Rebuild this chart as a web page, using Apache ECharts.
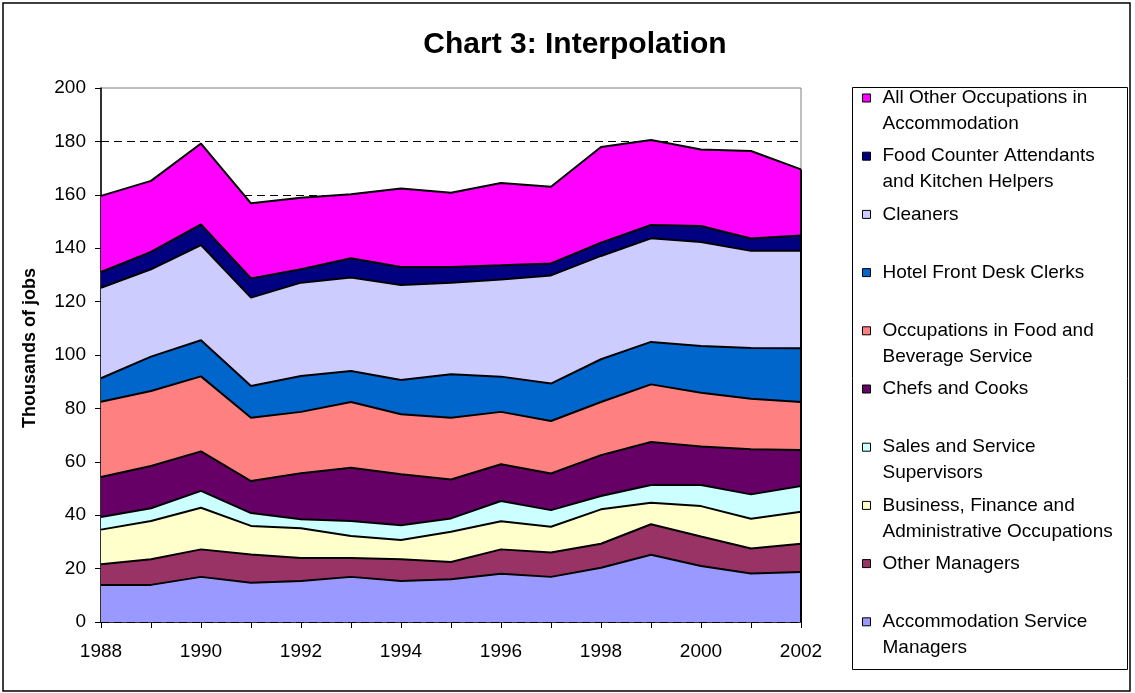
<!DOCTYPE html>
<html>
<head>
<meta charset="utf-8">
<title>Chart 3: Interpolation</title>
<script src="https://cdn.jsdelivr.net/npm/echarts@6/dist/echarts.min.js"></script>
<style>
  html, body { margin: 0; padding: 0; background: #fff; }
  #chart { width: 1135px; height: 693px; }
</style>
</head>
<body>
<div id="chart"></div>
<script>
const years = ['1988', '1989', '1990', '1991', '1992', '1993', '1994', '1995',
  '1996', '1997', '1998', '1999', '2000', '2001', '2002'];

// thousands of jobs, per occupation (stacked bottom to top)
const accommodationManagers = [13.9, 13.9, 16.9, 14.7, 15.4, 16.9, 15.4, 16.0, 18.1, 16.9, 20.3, 25.2, 21.0, 18.2, 18.7];
const otherManagers = [7.7, 9.6, 10.3, 10.6, 8.6, 7.1, 8.1, 6.5, 9.1, 9.1, 9.0, 11.4, 11.0, 9.3, 10.6];
const businessAdmin = [13.0, 14.3, 15.6, 10.7, 11.1, 8.2, 7.2, 11.3, 10.5, 9.7, 12.9, 8.1, 11.4, 11.2, 12.0];
const salesSupervisors = [4.7, 4.8, 6.3, 4.8, 3.4, 5.6, 5.5, 5.0, 7.6, 6.2, 5.0, 6.6, 7.9, 9.1, 9.6];
const chefsCooks = [15.0, 15.8, 14.8, 12.0, 17.2, 20.0, 19.1, 14.6, 13.8, 13.7, 15.3, 16.1, 14.4, 16.9, 13.5];
const foodBeverage = [28.2, 28.1, 28.1, 23.7, 23.0, 24.6, 22.5, 23.1, 19.6, 19.7, 19.9, 21.6, 20.2, 18.9, 18.0];
const frontDesk = [8.8, 12.9, 13.5, 11.9, 13.4, 11.6, 12.8, 16.3, 13.2, 14.0, 16.0, 15.9, 17.5, 19.0, 20.1];
const cleaners = [33.9, 32.7, 35.7, 33.1, 35.0, 35.0, 35.6, 34.3, 36.4, 40.5, 38.7, 38.8, 38.9, 36.4, 36.5];
const foodCounter = [5.9, 6.5, 7.7, 7.2, 5.0, 7.2, 6.8, 5.9, 5.3, 4.5, 5.0, 5.0, 6.0, 4.6, 5.8];
const allOther = [28.5, 26.6, 30.3, 28.1, 26.8, 24.0, 29.4, 27.8, 30.8, 28.7, 35.8, 31.8, 28.7, 32.8, 24.7];

const seriesNames = [
  'Accommodation Service Managers',
  'Other Managers',
  'Business, Finance and Administrative Occupations',
  'Sales and Service Supervisors',
  'Chefs and Cooks',
  'Occupations in Food and Beverage Service',
  'Hotel Front Desk Clerks',
  'Cleaners',
  'Food Counter Attendants and Kitchen Helpers',
  'All Other Occupations in Accommodation'
];
const seriesValues = [accommodationManagers, otherManagers, businessAdmin, salesSupervisors,
  chefsCooks, foodBeverage, frontDesk, cleaners, foodCounter, allOther];
const colors = ['#9999ff', '#993366', '#ffffcc', '#ccffff', '#660066',
  '#ff8080', '#0066cc', '#ccccff', '#000080', '#ff00ff'];

// legend text as wrapped in the original
const legendLines = {
  'All Other Occupations in Accommodation': ['All Other Occupations in', 'Accommodation'],
  'Food Counter Attendants and Kitchen Helpers': ['Food Counter Attendants', 'and Kitchen Helpers'],
  'Occupations in Food and Beverage Service': ['Occupations in Food and', 'Beverage Service'],
  'Sales and Service Supervisors': ['Sales and Service', 'Supervisors'],
  'Business, Finance and Administrative Occupations': ['Business, Finance and', 'Administrative Occupations'],
  'Accommodation Service Managers': ['Accommodation Service', 'Managers']
};

const font = '"Liberation Sans", Arial, sans-serif';
const lineH = 26;

// three-line block (blank, first line, second line) so the marker sits on the first line
function legendText(name) {
  const lines = legendLines[name] || [name, ' '];
  return ' \n' + lines.join('\n');
}

const chart = echarts.init(document.getElementById('chart'));

const lastTotal = seriesValues.reduce((s, arr) => s + arr[arr.length - 1], 0);

const series = seriesNames.map((name, i) => {
  const s = {
    name,
    type: 'line',
    stack: 'jobs',
    data: seriesValues[i],
    symbol: 'none',
    silent: true,
    lineStyle: { color: '#000', width: 2 },
    itemStyle: { color: colors[i], borderColor: '#000', borderWidth: 1 },
    areaStyle: { color: colors[i], opacity: 1 },
    emphasis: { disabled: true }
  };
  if (i === seriesNames.length - 1) {
    s.markLine = {
      silent: true,
      symbol: 'none',
      label: { show: false },
      lineStyle: { color: '#000', width: 2, type: 'solid' },
      data: [[{ coord: [years[years.length - 1], 0] }, { coord: [years[years.length - 1], lastTotal] }]]
    };
  }
  return s;
});

chart.setOption({
  animation: false,
  color: colors,
  textStyle: { fontFamily: font },
  title: {
    text: 'Chart 3: Interpolation',
    left: 570,
    top: 25,
    textAlign: 'center',
    textStyle: { fontFamily: font, fontSize: 30, fontWeight: 'bold', color: '#000' }
  },
  grid: {
    left: 101, right: 334, top: 88, bottom: 71,
    show: true, borderColor: '#808080', borderWidth: 1, backgroundColor: '#fff'
  },
  legend: {
    orient: 'vertical',
    left: 862,
    top: 59,
    padding: 0,
    itemGap: 58.2 - 3 * lineH,
    itemWidth: 8,
    itemHeight: 8,
    icon: 'rect',
    selectedMode: false,
    itemStyle: { borderColor: '#000', borderWidth: 1 },
    textStyle: {
      fontFamily: font, fontSize: 19, color: '#000',
      lineHeight: lineH, padding: [0, 0, 0, 7]
    },
    formatter: legendText,
    data: seriesNames.slice().reverse()
  },
  xAxis: {
    type: 'category',
    data: years,
    boundaryGap: false,
    axisLine: { lineStyle: { color: '#000', width: 1.5 } },
    axisTick: { show: true, interval: 0, length: 6, lineStyle: { color: '#000' } },
    axisLabel: { interval: 1, margin: 20, fontSize: 19, color: '#000', fontFamily: font },
    splitLine: { show: false }
  },
  yAxis: {
    type: 'value',
    min: 0,
    max: 200,
    interval: 20,
    name: 'Thousands of jobs',
    nameLocation: 'middle',
    nameGap: 62,
    nameTextStyle: { fontFamily: font, fontSize: 18, fontWeight: 'bold', color: '#000', padding: [0, 0, 0, 14] },
    axisLine: { show: true, lineStyle: { color: '#000', width: 1.5 } },
    axisTick: { show: true, length: 6, lineStyle: { color: '#000' } },
    axisLabel: { margin: 15, fontSize: 19, color: '#000', fontFamily: font },
    splitLine: {
      show: true,
      showMaxLine: false,
      lineStyle: { color: '#000', width: 1, type: [8, 5] }
    }
  },
  graphic: [
    {
      type: 'rect',
      silent: true,
      shape: { x: 3, y: 3, width: 1127, height: 688 },
      style: { fill: 'none', stroke: '#000', lineWidth: 1.5 }
    },
    {
      type: 'rect',
      silent: true,
      shape: { x: 852.5, y: 87.5, width: 275, height: 582 },
      style: { fill: 'none', stroke: '#000', lineWidth: 1 }
    }
  ],
  series
});
</script>
</body>
</html>
